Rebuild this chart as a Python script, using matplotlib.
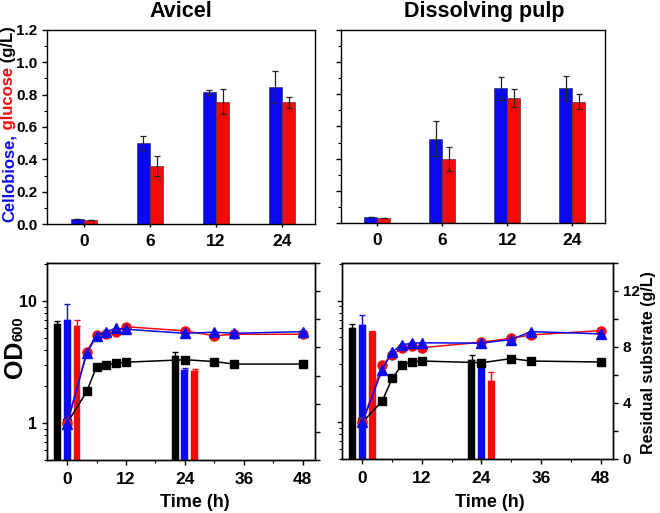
import numpy as np
import matplotlib
matplotlib.use("Agg")
import matplotlib.pyplot as plt
from matplotlib.ticker import MultipleLocator, LogLocator, NullFormatter, FixedLocator

plt.rcParams['font.family'] = ['Liberation Sans', 'DejaVu Sans']
plt.rcParams['font.weight'] = 'bold'

BLUE = '#0a0af0'
RED = '#f50a0a'

# top panels: sugars released (g/L)
top_cats = ['0', '6', '12', '24']
avicel_cello = [0.033, 0.50, 0.815, 0.85]
avicel_cello_err = [0, 0.045, 0.014, 0.099]
avicel_gluc = [0.025, 0.36, 0.757, 0.752]
avicel_gluc_err = [0, 0.062, 0.077, 0.034]
pulp_cello = [0.038, 0.525, 0.838, 0.842]
pulp_cello_err = [0, 0.107, 0.072, 0.075]
pulp_gluc = [0.03, 0.40, 0.777, 0.754]
pulp_gluc_err = [0, 0.075, 0.055, 0.047]

# bottom panels: OD600 growth curves
time_h = [0, 4, 6, 8, 10, 12, 24, 30, 34, 48]
avicel_od_black = [1.0, 1.82, 2.91, 3.0, 3.1, 3.16, 3.31, 3.2, 3.05, 3.05]
avicel_od_red = [1.0, 3.86, 5.3, 5.35, 5.62, 6.17, 5.7, 5.2, 5.35, 5.35]
avicel_od_blue = [0.98, 3.75, 5.2, 5.62, 6.0, 5.88, 5.45, 5.56, 5.45, 5.62]
pulp_od_black = [1.0, 1.5, 2.3, 2.99, 3.14, 3.2, 3.1, 3.35, 3.2, 3.14]
pulp_od_red = [1.0, 2.95, 3.61, 4.09, 4.22, 4.12, 4.57, 4.93, 5.25, 5.69]
pulp_od_blue = [1.0, 2.72, 3.79, 4.35, 4.49, 4.52, 4.49, 4.81, 5.59, 5.35]

# residual substrate bars (g/L)
bar_times = [0, 24]
avicel_res_black = [9.69, 7.38]
avicel_res_black_err = [0.2, 0.28]
avicel_res_blue = [9.95, 6.43]
avicel_res_blue_err = [1.12, 0.12]
avicel_res_red = [9.52, 6.36]
avicel_res_red_err = [0.43, 0.14]
pulp_res_black = [9.36, 7.09]
pulp_res_black_err = [0.3, 0.31]
pulp_res_blue = [9.59, 6.5]
pulp_res_blue_err = [0.71, 0.15]
pulp_res_red = [9.04, 5.59]
pulp_res_red_err = [0.12, 0.62]

W, H = 660, 513
fig = plt.figure(figsize=(W / 100, H / 100), dpi=100)


def rect(l, t, r, b):
    return [l / W, 1 - b / H, (r - l) / W, (b - t) / H]


def style_spines(ax):
    for s in ax.spines.values():
        s.set_linewidth(1.0)


def top_panel(pos, cello, cello_err, gluc, gluc_err, show_y):
    ax = fig.add_axes(pos)
    x = np.arange(len(top_cats))
    ek = dict(ecolor='#222222', elinewidth=0.9, capsize=2.2, capthick=0.9)
    ax.bar(x - 0.1, cello, 0.2, yerr=cello_err, color=BLUE, edgecolor='#333366',
           linewidth=0.5, error_kw=ek)
    ax.bar(x + 0.1, gluc, 0.2, yerr=gluc_err, color=RED, edgecolor='#663333',
           linewidth=0.5, error_kw=ek)
    ax.set_xlim(-0.56, 3.5)
    ax.set_ylim(0, 1.2)
    ax.set_xticks(x)
    ax.set_xticklabels(top_cats, fontsize=12.5, fontweight='bold')
    ax.yaxis.set_major_locator(MultipleLocator(0.2))
    ax.yaxis.set_minor_locator(MultipleLocator(0.1))
    ax.tick_params(axis='both', direction='out', width=1, length=3.5)
    ax.tick_params(axis='x', length=2.5, pad=5)
    ax.tick_params(axis='y', which='minor', direction='out', width=0.8, length=2)
    if show_y:
        ax.set_yticklabels([f'{v:.1f}' for v in ax.get_yticks()], fontsize=11,
                           fontweight='bold')
    else:
        ax.tick_params(axis='y', labelleft=False)
    style_spines(ax)
    return ax


def bottom_panel(pos, od_black, od_red, od_blue, res, show_left, show_right):
    ax = fig.add_axes(pos)
    ax2 = ax.twinx()
    # bars on the right (residual substrate) axis
    offsets = [-2, 0, 2]
    colors = ['black', BLUE, RED]
    for (vals, errs), off, c in zip(res, offsets, colors):
        xb = [t + off for t in bar_times]
        ax2.bar(xb, vals, 1.4, color=c, edgecolor=c, linewidth=0.3)
        ax2.errorbar(xb, vals, yerr=[[0] * len(errs), errs], fmt='none', ecolor=c,
                     elinewidth=1.0, capsize=2.2, capthick=1.0)
    ax2.set_ylim(0, 14)
    ax2.yaxis.set_major_locator(MultipleLocator(4))
    ax2.yaxis.set_minor_locator(MultipleLocator(2))
    ax2.tick_params(axis='y', which='both', direction='out', width=1, length=3.5)
    if show_right:
        ax2.set_yticklabels([f'{int(v)}' for v in ax2.get_yticks()], fontsize=11,
                            fontweight='bold')
    else:
        ax2.tick_params(axis='y', labelright=False)

    # growth curves on the left (log) axis, drawn above the bars
    ax.set_zorder(ax2.get_zorder() + 1)
    ax.patch.set_visible(False)
    ax.plot(time_h, od_black, '-s', color='black', lw=1.1, ms=6)
    ax.plot(time_h, od_red, '-o', color=RED, lw=1.1, ms=6.5)
    ax.plot(time_h, od_blue, '-^', color=BLUE, lw=1.1, ms=7)
    ax.set_yscale('log')
    ax.set_ylim(0.5, 20.5)
    ax.set_xlim(-4.1, 50.5)
    ax.set_xticks([0, 12, 24, 36, 48])
    ax.xaxis.set_minor_locator(MultipleLocator(6))
    ax.set_xticklabels(['0', '12', '24', '36', '48'], fontsize=12.5, fontweight='bold')
    ax.yaxis.set_major_locator(FixedLocator([1, 10]))
    ax.yaxis.set_minor_locator(LogLocator(base=10, subs=np.arange(2, 10)))
    ax.yaxis.set_minor_formatter(NullFormatter())
    ax.tick_params(axis='both', which='major', direction='out', width=1, length=3.5)
    ax.tick_params(axis='both', which='minor', direction='out', width=0.8, length=2.2)
    ax.tick_params(axis='x', pad=5)
    if show_left:
        ax.set_yticklabels(['1', '10'], fontsize=11.5, fontweight='bold')
    else:
        ax.tick_params(axis='y', labelleft=False)
    style_spines(ax)
    style_spines(ax2)
    return ax, ax2


top_panel(rect(47, 30, 315, 224), avicel_cello, avicel_cello_err,
          avicel_gluc, avicel_gluc_err, True)
top_panel(rect(341, 30, 605, 223), pulp_cello, pulp_cello_err,
          pulp_gluc, pulp_gluc_err, False)

bottom_panel(rect(47, 263, 315, 460), avicel_od_black, avicel_od_red, avicel_od_blue,
             [(avicel_res_black, avicel_res_black_err),
              (avicel_res_blue, avicel_res_blue_err),
              (avicel_res_red, avicel_res_red_err)], True, False)
bottom_panel(rect(342, 263, 613, 459), pulp_od_black, pulp_od_red, pulp_od_blue,
             [(pulp_res_black, pulp_res_black_err),
              (pulp_res_blue, pulp_res_blue_err),
              (pulp_res_red, pulp_res_red_err)], False, True)

# titles
fig.text(181 / W, 1 - 17 / H, 'Avicel', ha='center', va='baseline',
         fontsize=15.5, fontweight='bold')
fig.text(484 / W, 1 - 17 / H, 'Dissolving pulp', ha='center', va='baseline',
         fontsize=15.5, fontweight='bold')

# multi-coloured y label for top panels
t1 = fig.text(9 / W, 1 - 222 / H, 'Cellobiose,', rotation=90, ha='center', va='bottom',
              fontsize=12, fontweight='bold', color=BLUE)
t2 = fig.text(0, 0, ' glucose', rotation=90, ha='center', va='bottom',
              fontsize=12, fontweight='bold', color=RED)
t3 = fig.text(0, 0, ' (g/L)', rotation=90, ha='center', va='bottom',
              fontsize=12, fontweight='bold', color='black')
od = fig.text(15 / W, 1 - 378 / H, 'OD', rotation=90, ha='center', va='bottom',
              fontsize=18, fontweight='bold')
od_sub = fig.text(0, 0, '600', rotation=90, ha='center', va='bottom',
                  fontsize=10.5, fontweight='bold')
fig.canvas.draw()
r = fig.canvas.get_renderer()
bb1 = t1.get_window_extent(r)
t2.set_position(((bb1.x0 + bb1.x1) / 2 / W, bb1.y1 / H))
fig.canvas.draw()
bb2 = t2.get_window_extent(r)
t3.set_position(((bb2.x0 + bb2.x1) / 2 / W, bb2.y1 / H))
bbo = od.get_window_extent(r)
od_sub.set_position(((bbo.x0 + bbo.x1) / 2 / W + 3.5 / W, bbo.y1 / H))

# bottom labels
fig.text(195 / W, 1 - 507 / H, 'Time (h)', ha='center', va='baseline',
         fontsize=13, fontweight='bold')
fig.text(490 / W, 1 - 507 / H, 'Time (h)', ha='center', va='baseline',
         fontsize=13, fontweight='bold')
fig.text(649 / W, 1 - 363 / H, 'Residual substrate (g/L)', rotation=90,
         ha='center', va='center', fontsize=11.5, fontweight='bold')

fig.savefig('out.png', dpi=100)
